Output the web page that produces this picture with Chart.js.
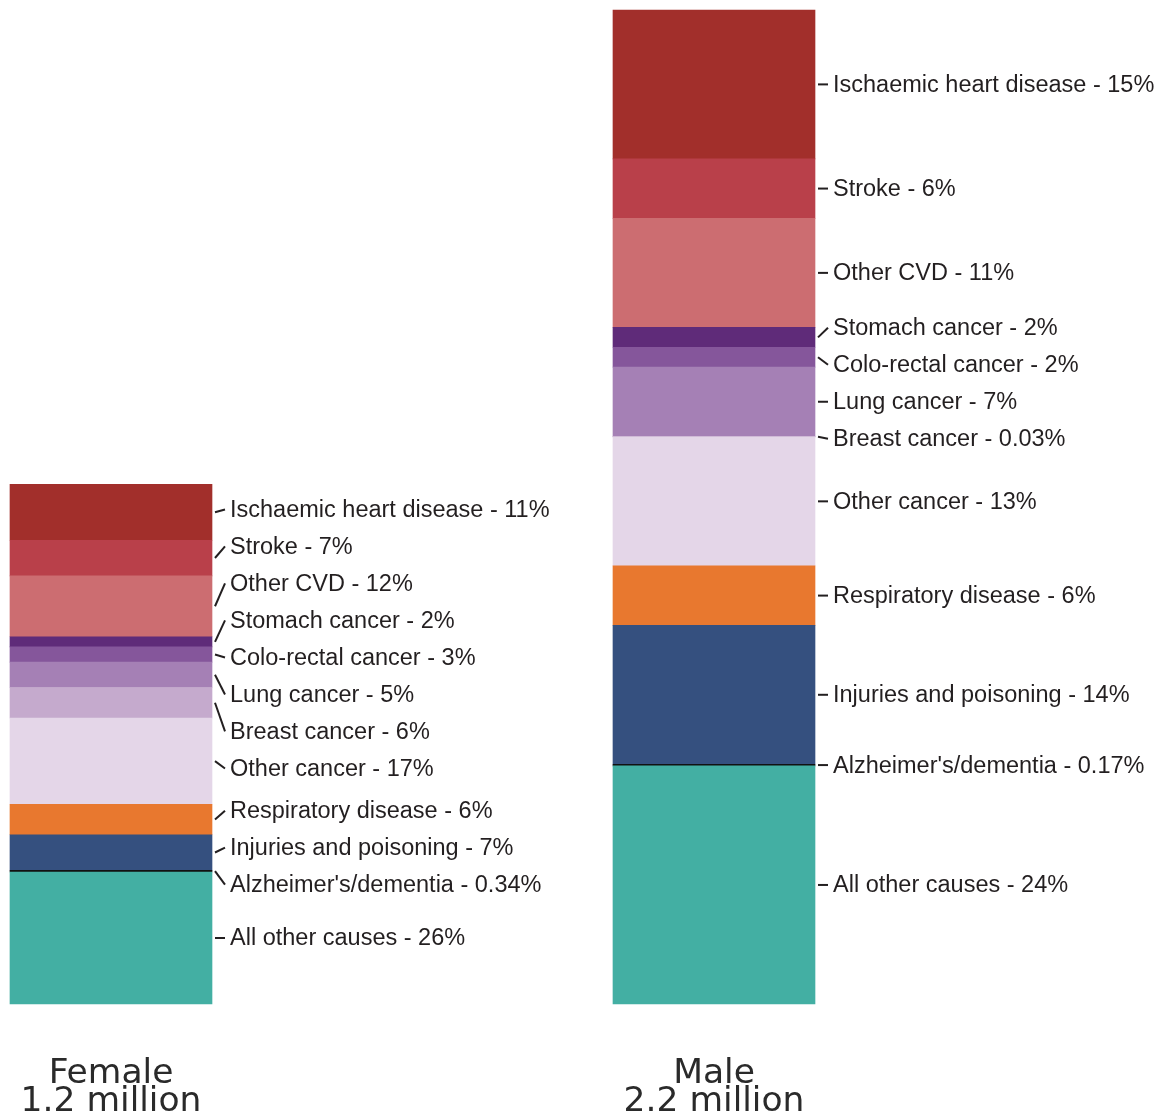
<!DOCTYPE html>
<html>
<head>
<meta charset="utf-8">
<script src="https://cdn.jsdelivr.net/npm/chart.js@4"></script>
<style>
  html, body { margin: 0; padding: 0; background: #fff; }
  #wrap { width: 1157px; height: 1114px; }
</style>
</head>
<body>
<div id="wrap"><canvas id="chart" width="1157" height="1114"></canvas></div>
<script>
// causes listed top of the bar to bottom
const causes = [
    'Ischaemic heart disease', 'Stroke', 'Other CVD', 'Stomach cancer',
    'Colo-rectal cancer', 'Lung cancer', 'Breast cancer', 'Other cancer',
    'Respiratory disease', 'Injuries and poisoning', "Alzheimer's/dementia",
    'All other causes'
];
const colors = [
    '#a22f2b', '#b9404a', '#cc6d71', '#5f2b79', '#85569b', '#a580b5',
    '#c5aacd', '#e4d6e8', '#e8782f', '#35507f', '#111111', '#43afa3'
];
const groups = ['Female', 'Male'];
const totalLabels = ['1.2 million', '2.2 million'];
// total deaths (millions)
const totals = [1.15, 2.2];
const femalePct = [11, 7, 12, 2, 3, 5, 6, 17, 6, 7, 0.34, 26];
const malePct = [15, 6, 11, 2, 2, 7, 0.03, 13, 6, 14, 0.17, 24];

const pcts = [femalePct, malePct];
const sums = pcts.map(p => p.reduce((a, b) => a + b, 0));

// stacking starts from the bottom, so build datasets in reverse
const datasets = causes.map((c, i) => ({
    label: c,
    data: pcts.map((p, g) => p[i] / sums[g] * totals[g]),
    backgroundColor: colors[i],
    borderWidth: 0,
    barThickness: 202,
    clip: false,
    causeIndex: i
})).reverse();

// spread labels so they don't overlap, keeping groups centred on their anchors
function spreadLabels(centers, gap) {
    let blocks = [];
    centers.forEach((c, i) => {
        blocks.push({ idx: [i], want: [c], top: c });
        while (blocks.length > 1) {
            const b = blocks[blocks.length - 1];
            const prev = blocks[blocks.length - 2];
            const prevBottom = prev.top + (prev.idx.length - 1) * gap;
            if (b.top - prevBottom >= gap) break;
            const merged = { idx: prev.idx.concat(b.idx), want: prev.want.concat(b.want) };
            const mean = merged.want.reduce((a, v) => a + v, 0) / merged.want.length;
            merged.top = mean - (merged.idx.length - 1) * gap / 2;
            blocks.splice(blocks.length - 2, 2, merged);
        }
    });
    const out = [];
    blocks.forEach(b => b.idx.forEach((k, j) => { out[k] = b.top + j * gap; }));
    return out;
}

const labelPlugin = {
    id: 'sideLabels',
    afterDatasetsDraw(chart) {
        const ctx = chart.ctx;
        const xScale = chart.scales.x;
        ctx.save();
        groups.forEach((g, gi) => {
            const centers = [];
            let barRight = 0;
            causes.forEach((c, i) => {
                const dsIndex = chart.data.datasets.findIndex(d => d.causeIndex === i);
                const el = chart.getDatasetMeta(dsIndex).data[gi];
                centers[i] = (el.y + el.base) / 2;
                barRight = el.x + el.width / 2;
            });
            const ys = spreadLabels(centers, 37);
            const textX = barRight + 18;
            ctx.font = '23.5px "Liberation Sans", Arial, sans-serif';
            ctx.fillStyle = '#231f20';
            ctx.strokeStyle = '#231f20';
            ctx.lineWidth = 2;
            ctx.textAlign = 'left';
            ctx.textBaseline = 'middle';
            causes.forEach((c, i) => {
                ctx.beginPath();
                ctx.moveTo(barRight + 3, centers[i]);
                ctx.lineTo(textX - 5, ys[i]);
                ctx.stroke();
                ctx.fillText(c + ' - ' + pcts[gi][i] + '%', textX, ys[i] + 1);
            });

            // group name and total under each bar
            const cx = xScale.getPixelForValue(gi);
            const bottom = chart.chartArea.bottom;
            ctx.font = '34.5px "DejaVu Sans", sans-serif';
            ctx.fillStyle = '#2a2a2a';
            ctx.textAlign = 'center';
            ctx.textBaseline = 'alphabetic';
            ctx.fillText(g, cx, bottom + 79);
            ctx.fillText(totalLabels[gi], cx, bottom + 107);
        });
        ctx.restore();
    }
};

new Chart(document.getElementById('chart'), {
    type: 'bar',
    data: { labels: groups, datasets: datasets },
    options: {
        responsive: false,
        animation: false,
        layout: { padding: { left: 111, right: 443, top: 10, bottom: 110 } },
        plugins: { legend: { display: false }, tooltip: { enabled: false } },
        scales: {
            x: { stacked: true, offset: false, display: false },
            y: { stacked: true, display: false, min: 0, max: totals[1] }
        }
    },
    plugins: [labelPlugin]
});
</script>
</body>
</html>
